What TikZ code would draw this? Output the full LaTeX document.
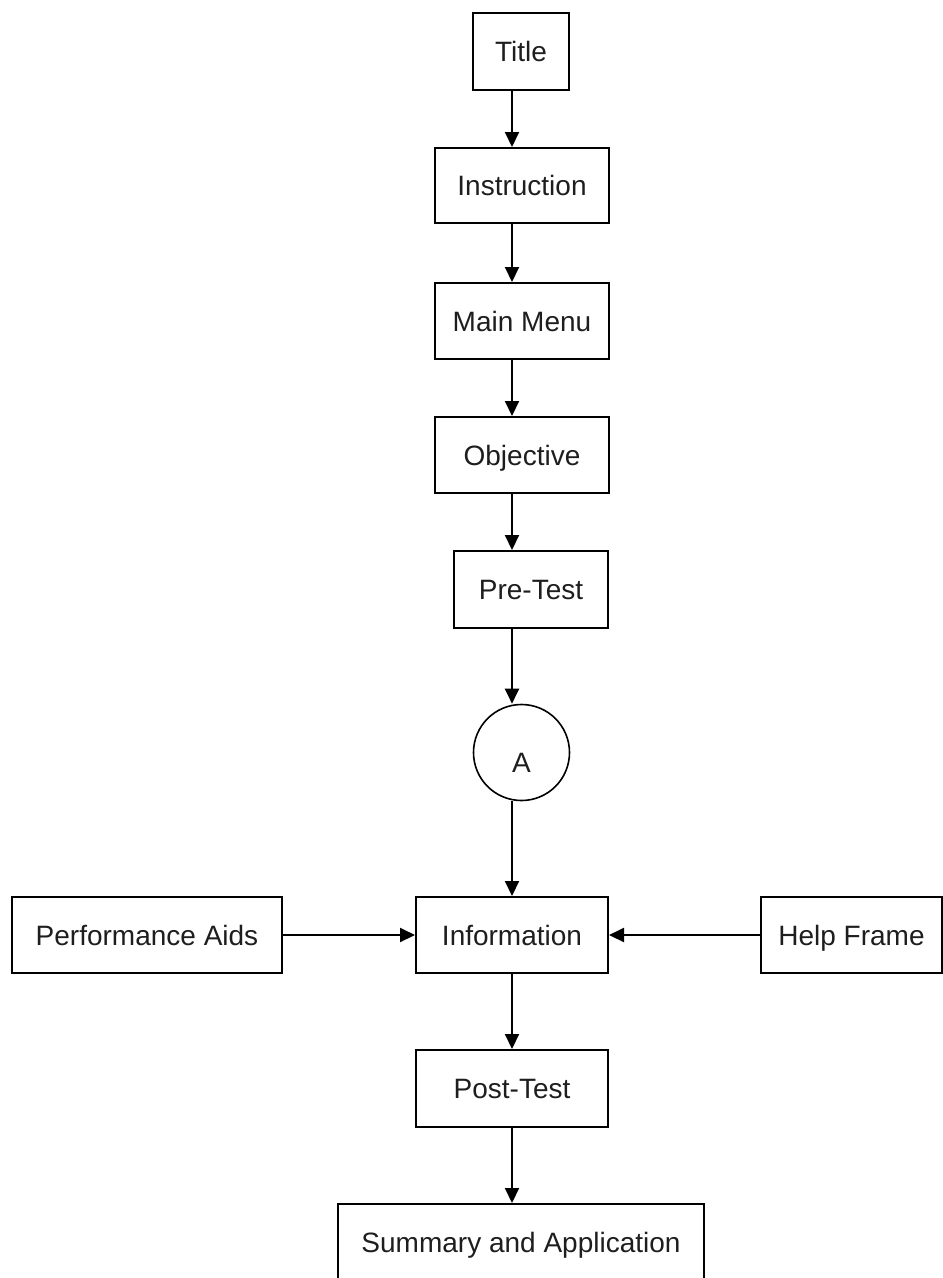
\documentclass[tikz,border=0pt]{standalone}
\usepackage{fontspec}
\setmainfont{Liberation Sans}
\usetikzlibrary{arrows.meta}
\definecolor{ink}{HTML}{1E1E1E}
\begin{document}
\begin{tikzpicture}[x=1pt,y=-1pt,
  label font/.style={font=\fontsize{28}{34}\selectfont, text=ink, text height=20pt, text depth=0pt},
  box/.style={draw, line width=2pt, inner sep=0pt, label font},
  connector/.style={line width=2pt, -{Triangle[length=15pt,width=14pt]}},
]
\useasboundingbox (0,0) rectangle (943,1278);
\clip (0,0) rectangle (943,1278);

% main column of screens
\node[box, minimum width=96pt,  minimum height=77pt] (title) at (521,51.5)   {Title};
\node[box, minimum width=174pt, minimum height=75pt] (instr) at (522,185.5)  {Instruction};
\node[box, minimum width=174pt, minimum height=76pt] (menu)  at (522,321)    {Main Menu};
\node[box, minimum width=174pt, minimum height=76pt] (obj)   at (522,455)    {Objective};
\node[box, minimum width=154pt, minimum height=77pt] (pre)   at (531,589.5)  {Pre-Test};
\node[draw, circle, line width=1.6pt, minimum size=96pt, inner sep=0pt,
      label font] (conA) at (521.5,752.5) {\raisebox{-10pt}{A}};
\node[box, minimum width=192pt, minimum height=76pt] (info)  at (512,935)    {Information};
\node[box, minimum width=192pt, minimum height=77pt] (post)  at (512,1088.5) {Post-Test};
\node[box, minimum width=366pt, minimum height=76pt] (summ)  at (521,1242)   {Summary and Application};

% side screens
\node[box, minimum width=270pt, minimum height=76pt] (perf)  at (147,935)    {Performance Aids};
\node[box, minimum width=181pt, minimum height=76pt] (help)  at (851.5,935)  {Help Frame};

% vertical flow line
\coordinate (spine) at (512,0);

\draw[connector] (title.south -| spine) -- (instr.north -| spine);
\draw[connector] (instr.south -| spine) -- (menu.north -| spine);
\draw[connector] (menu.south -| spine)  -- (obj.north -| spine);
\draw[connector] (obj.south -| spine)   -- (pre.north -| spine);
\draw[connector] (pre.south -| spine)   -- (spine |- conA.north);
\draw[connector] (spine |- conA.south)  -- (info.north);
\draw[connector] (info.south) -- (post.north);
\draw[connector] (post.south) -- (summ.north -| spine);

\draw[connector] (perf.east) -- (info.west);
\draw[connector] (help.west) -- (info.east);
\end{tikzpicture}
\end{document}
